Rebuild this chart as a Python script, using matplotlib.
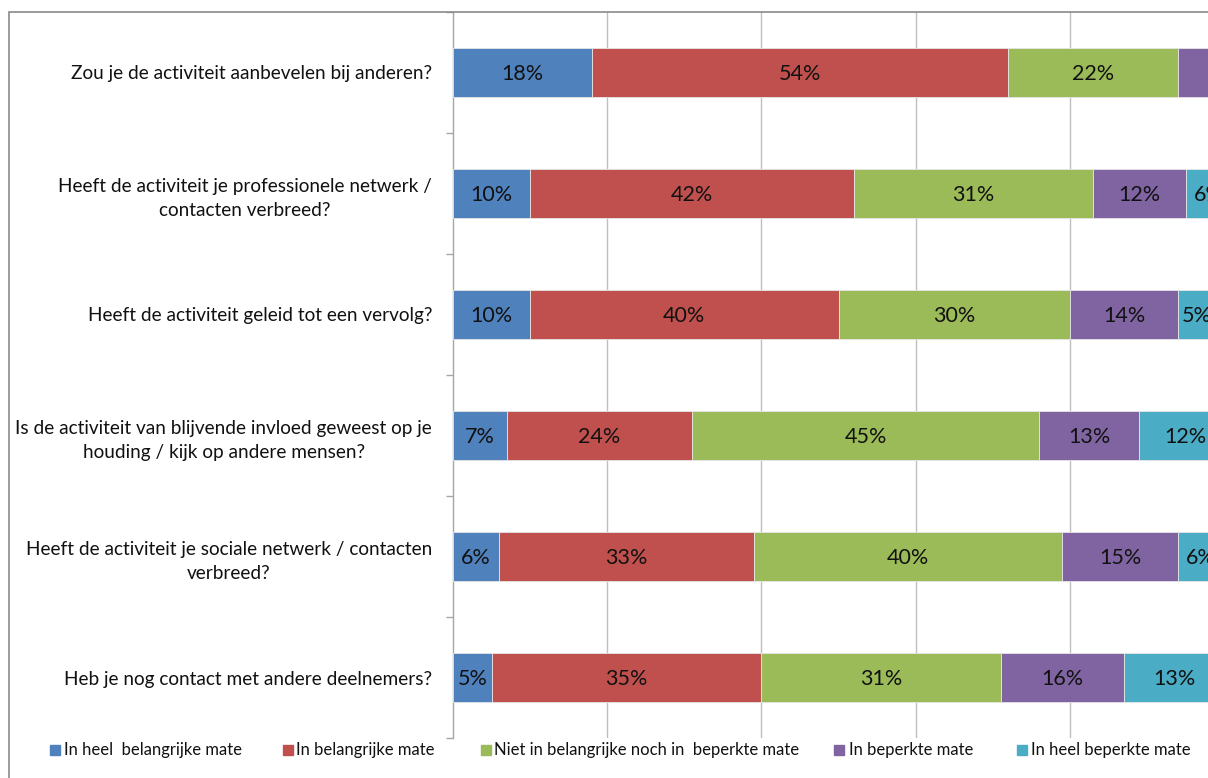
import matplotlib
matplotlib.use("Agg")
import matplotlib.pyplot as plt
from matplotlib.patches import Rectangle

plt.rcParams['font.family'] = ['Lato', 'DejaVu Sans']

questions = [
    "Zou je de activiteit aanbevelen bij anderen?",
    "Heeft de activiteit je professionele netwerk /\ncontacten verbreed?",
    "Heeft de activiteit geleid tot een vervolg?",
    "Is de activiteit van blijvende invloed geweest op je\nhouding / kijk op andere mensen?",
    "Heeft de activiteit je sociale netwerk / contacten\nverbreed?",
    "Heb je nog contact met andere deelnemers?",
]

series_names = [
    "In heel  belangrijke mate",
    "In belangrijke mate",
    "Niet in belangrijke noch in  beperkte mate",
    "In beperkte mate",
    "In heel beperkte mate",
]

heel_belangrijk = [18, 10, 10, 7, 6, 5]
belangrijk = [54, 42, 40, 24, 33, 35]
neutraal = [22, 31, 30, 45, 40, 31]
beperkt = [6, 12, 14, 13, 15, 16]
heel_beperkt = [0, 6, 5, 12, 6, 13]

# segments whose value label is not shown (row, series)
unlabeled = {(0, 3)}

colors = ["#4F81BD", "#C0504D", "#9BBB59", "#8064A2", "#4BACC6"]

W, H = 1208, 778
fig = plt.figure(figsize=(W / 100, H / 100), dpi=100)

ax_left, ax_top, ax_bottom = 453, 12, 738
ax = fig.add_axes([ax_left / W, 1 - ax_bottom / H, 1 - ax_left / W, (ax_bottom - ax_top) / H])

series = [heel_belangrijk, belangrijk, neutraal, beperkt, heel_beperkt]
ypos = [i + 0.5 for i in range(len(questions))]
left = [0.0] * len(questions)
for s, (vals, col) in enumerate(zip(series, colors)):
    ax.barh(ypos, vals, left=left, height=0.4, color=col, edgecolor="#e6e6e6",
            linewidth=0.6, zorder=3)
    for r, v in enumerate(vals):
        if v > 0 and (r, s) not in unlabeled:
            ax.text(left[r] + v / 2, ypos[r] + 0.01, f"{v}%", ha="center", va="center",
                    fontsize=15.5, color="#111111", zorder=4, clip_on=False)
    left = [l + v for l, v in zip(left, vals)]

ax.set_xlim(0, 97.9)
ax.set_ylim(len(questions), 0)

ax.set_xticks([20, 40, 60, 80])
ax.set_xticklabels([])
ax.tick_params(axis="x", length=0)
ax.grid(axis="x", color="#bfbfbf", linewidth=1.0, zorder=0)

ax.set_yticks(range(len(questions) + 1))
ax.set_yticklabels([])
ax.tick_params(axis="y", which="major", length=5, color="#a6a6a6", width=1)
ax.set_yticks(ypos, minor=True)
ax.set_yticklabels(questions, minor=True, fontsize=13.7, color="#111111",
                   multialignment="center", linespacing=1.5)
ax.tick_params(axis="y", which="minor", length=0, pad=15)

for side in ["top", "right", "bottom"]:
    ax.spines[side].set_visible(False)
ax.spines["left"].set_color("#a6a6a6")
ax.spines["left"].set_linewidth(1.0)

# chart frame
fig.add_artist(Rectangle((9 / W, -0.1), 1.2, 1.1 - 12 / H, transform=fig.transFigure,
                         fill=False, edgecolor="#8a8a8a", linewidth=1.2))

# legend row
legend_y = 1 - 750 / H
legend_x = [(50, 64), (283, 296), (481, 494), (834, 849), (1017, 1031)]
for (sx, tx), name, col in zip(legend_x, series_names, colors):
    fig.add_artist(Rectangle((sx / W, legend_y - 5 / H), 10 / W, 10 / H,
                             transform=fig.transFigure, color=col))
    fig.text(tx / W, legend_y, name, ha="left", va="center", fontsize=12,
             color="#111111")

fig.savefig("out.png", dpi=100)
